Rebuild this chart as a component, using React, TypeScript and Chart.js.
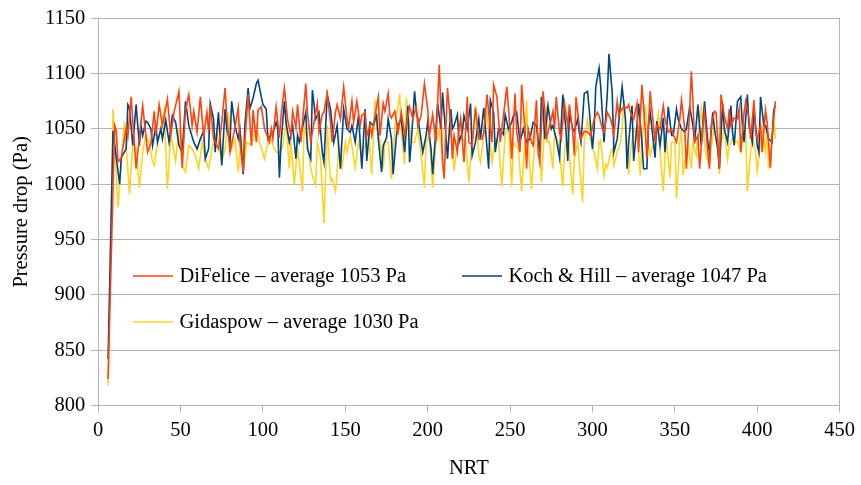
import { useEffect, useRef } from "react";
import { Chart, registerables } from "chart.js";

Chart.register(...registerables);

// Pressure drop over the number of residence times (NRT) for three drag models.
// Each entry is [NRT, pressure drop in Pa].
const difelice: [number, number][] = [
  [6, 824], [10, 1053], [11, 1048], [12, 1020], [14, 1024], [17, 1051], [18, 1043], [20, 1079], [23, 1014], [27, 1071],
  [30, 1029], [32, 1037], [34, 1066], [35, 1044], [37, 1072], [39, 1053], [42, 1077], [44, 1044], [46, 1065], [49, 1084],
  [51, 1015], [53, 1067], [55, 1081], [57, 1053], [58, 1066], [60, 1047], [62, 1079], [64, 1044], [66, 1065], [67, 1047],
  [68, 1072], [70, 1041], [73, 1032], [75, 1056], [77, 1087], [78, 1062], [80, 1029], [83, 1051], [85, 1069], [86, 1038],
  [88, 1011], [89, 1038], [91, 1081], [93, 1035], [94, 1067], [96, 1038], [97, 1067], [99, 1070], [101, 1050], [104, 1038],
  [105, 1050], [106, 1041], [108, 1070], [110, 1042], [111, 1062], [113, 1087], [115, 1058], [117, 1044], [118, 1066], [120, 1051],
  [121, 1072], [123, 1038], [124, 1056], [126, 1091], [127, 1065], [129, 1038], [131, 1056], [133, 1073], [134, 1047], [136, 1063],
  [137, 1065], [139, 1082], [141, 1056], [142, 1038], [144, 1065], [145, 1072], [147, 1059], [149, 1088], [151, 1059], [152, 1051],
  [154, 1075], [155, 1056], [157, 1075], [159, 1053], [160, 1062], [162, 1065], [163, 1044], [165, 1053], [166, 1044], [168, 1062],
  [170, 1079], [171, 1044], [173, 1073], [174, 1066], [176, 1082], [177, 1063], [178, 1060], [180, 1066], [182, 1047], [184, 1065],
  [186, 1044], [188, 1062], [189, 1070], [191, 1059], [193, 1070], [194, 1053], [196, 1062], [198, 1091], [200, 1068], [201, 1044],
  [203, 1063], [205, 1038], [207, 1108], [208, 1068], [209, 1020], [210, 1005], [211, 1050], [212, 1087], [214, 1053], [215, 1023],
  [216, 1044], [218, 1029], [219, 1050], [220, 1059], [222, 1020], [224, 1079], [225, 1038], [227, 1035], [229, 1069], [231, 1041],
  [233, 1041], [234, 1047], [236, 1081], [238, 1050], [239, 1038], [240, 1090], [242, 1079], [244, 1038], [246, 1063], [248, 1088],
  [250, 1050], [251, 1023], [253, 1082], [254, 1047], [256, 1029], [257, 1090], [259, 1050], [260, 1014], [261, 1050], [263, 1038],
  [264, 1035], [266, 1076], [267, 1029], [268, 1020], [270, 1084], [271, 1067], [272, 1042], [274, 1053], [276, 1066], [277, 1050],
  [278, 1079], [280, 1047], [281, 1041], [283, 1073], [285, 1053], [286, 1072], [288, 1047], [289, 1026], [290, 1079], [292, 1053],
  [293, 1041], [295, 1048], [297, 1047], [299, 1044], [301, 1059], [303, 1065], [304, 1062], [306, 1050], [307, 1047], [309, 1065],
  [311, 1059], [312, 1053], [313, 1044], [315, 1075], [316, 1062], [317, 1066], [319, 1070], [321, 1069], [322, 1072], [323, 1065],
  [325, 1059], [327, 1073], [328, 1029], [330, 1090], [332, 1050], [333, 1023], [335, 1084], [336, 1068], [338, 1038], [339, 1053],
  [341, 1050], [343, 1071], [344, 1059], [346, 1047], [348, 1050], [349, 1045], [351, 1038], [353, 1059], [354, 1076], [356, 1050],
  [357, 1014], [359, 1068], [360, 1102], [361, 1073], [362, 1038], [364, 1044], [365, 1014], [367, 1053], [368, 1065], [370, 1029],
  [371, 1014], [372, 1053], [374, 1066], [375, 1065], [377, 1014], [378, 1081], [380, 1062], [382, 1050], [383, 1068], [384, 1053],
  [386, 1060], [388, 1059], [389, 1068], [390, 1029], [392, 1065], [393, 1075], [395, 1059], [396, 1041], [398, 1076], [399, 1047],
  [400, 1041], [402, 1053], [403, 1029], [405, 1067], [406, 1056], [408, 1015], [409, 1044], [411, 1075],
];

const kochHill: [number, number][] = [
  [6, 842], [9, 1048], [13, 1000], [14, 1024], [17, 1032], [18, 1072], [19, 1069], [21, 1035], [23, 1072], [25, 1035],
  [26, 1053], [27, 1044], [29, 1057], [30, 1056], [32, 1050], [33, 1035], [35, 1053], [36, 1038], [38, 1050], [39, 1041],
  [41, 1058], [43, 1038], [45, 1062], [47, 1056], [49, 1035], [51, 1029], [53, 1075], [55, 1053], [56, 1048], [58, 1038],
  [60, 1032], [62, 1041], [64, 1048], [65, 1023], [67, 1032], [68, 1073], [70, 1059], [71, 1029], [73, 1065], [75, 1017],
  [77, 1068], [78, 1050], [80, 1038], [81, 1075], [83, 1053], [85, 1041], [86, 1050], [88, 1009], [89, 1053], [91, 1087],
  [92, 1068], [94, 1078], [96, 1091], [97, 1094], [99, 1079], [100, 1072], [102, 1068], [103, 1041], [106, 1047], [107, 1051],
  [108, 1056], [109, 1050], [110, 1006], [111, 1038], [113, 1075], [114, 1056], [116, 1038], [118, 1053], [120, 1023], [121, 1044],
  [122, 1038], [126, 1065], [127, 1032], [129, 1023], [130, 1085], [132, 1059], [134, 1065], [136, 1029], [137, 1020], [139, 1081],
  [141, 1068], [143, 1038], [145, 1053], [147, 1014], [149, 1068], [151, 1050], [153, 1047], [154, 1053], [156, 1038], [158, 1062],
  [160, 1014], [162, 1068], [163, 1021], [165, 1056], [167, 1053], [168, 1058], [169, 1062], [170, 1041], [172, 1011], [173, 1035],
  [175, 1042], [176, 1059], [178, 1041], [179, 1009], [181, 1044], [182, 1054], [184, 1059], [186, 1029], [188, 1071], [189, 1020],
  [190, 1038], [192, 1084], [193, 1068], [195, 1050], [197, 1029], [199, 1044], [200, 1056], [202, 1032], [203, 1009], [205, 1050],
  [206, 1073], [208, 1050], [209, 1083], [211, 1044], [212, 1023], [214, 1068], [215, 1050], [216, 1053], [218, 1063], [219, 1038],
  [221, 1047], [222, 1062], [224, 1050], [226, 1073], [227, 1026], [229, 1038], [231, 1059], [232, 1041], [234, 1069], [237, 1014],
  [238, 1076], [240, 1065], [241, 1029], [243, 1050], [244, 1050], [246, 1045], [247, 1063], [249, 1050], [251, 1056], [252, 1062],
  [254, 1065], [256, 1038], [258, 1050], [260, 1038], [262, 1041], [264, 1056], [266, 1053], [268, 1029], [269, 1079], [270, 1070],
  [271, 1041], [272, 1056], [273, 1071], [275, 1050], [276, 1053], [278, 1041], [280, 1024], [281, 1053], [282, 1081], [284, 1047],
  [285, 1021], [286, 1065], [288, 1050], [289, 1048], [291, 1059], [292, 1047], [293, 1038], [295, 1082], [297, 1084], [298, 1068],
  [300, 1032], [301, 1050], [302, 1088], [304, 1105], [305, 1088], [307, 1038], [309, 1082], [310, 1118], [312, 1082], [313, 1029],
  [315, 1041], [317, 1073], [318, 1088], [320, 1059], [321, 1014], [322, 1038], [324, 1071], [325, 1021], [327, 1053], [328, 1073],
  [330, 1038], [331, 1014], [333, 1014], [334, 1053], [335, 1065], [337, 1038], [338, 1024], [339, 1057], [341, 1035], [343, 1060],
  [344, 1029], [346, 1070], [348, 1044], [349, 1044], [351, 1068], [352, 1059], [354, 1050], [356, 1047], [357, 1050], [359, 1070],
  [361, 1053], [362, 1038], [364, 1072], [365, 1053], [366, 1035], [368, 1075], [370, 1038], [371, 1029], [373, 1065], [374, 1050],
  [376, 1032], [377, 1014], [379, 1073], [380, 1050], [382, 1038], [384, 1071], [385, 1047], [386, 1035], [388, 1075], [389, 1077],
  [390, 1079], [391, 1053], [392, 1038], [394, 1081], [395, 1053], [397, 1038], [398, 1071], [400, 1035], [401, 1029], [402, 1079],
  [404, 1053], [405, 1053], [407, 1041], [409, 1038], [410, 1067], [411, 1071],
];

const gidaspow: [number, number][] = [
  [6, 818], [9, 1068], [12, 979], [16, 1057], [19, 991], [21, 1037], [23, 1032], [25, 997], [27, 1030], [29, 1044],
  [31, 1037], [33, 1020], [34, 1017], [36, 1037], [38, 1050], [40, 1067], [42, 996], [44, 1044], [47, 1021], [49, 1050],
  [51, 1017], [53, 1011], [55, 1035], [57, 1032], [59, 1026], [61, 1014], [63, 1038], [65, 1023], [67, 1014], [69, 1032],
  [72, 1047], [75, 1020], [77, 1032], [79, 1065], [81, 1032], [83, 1041], [85, 1011], [87, 1044], [88, 1009], [90, 1038],
  [93, 1035], [96, 1053], [98, 1038], [101, 1023], [104, 1044], [106, 1035], [108, 1029], [110, 1029], [112, 1035], [114, 1056],
  [116, 1014], [117, 1038], [119, 1000], [121, 1032], [124, 994], [125, 1053], [127, 1038], [129, 1014], [130, 1008], [132, 999],
  [133, 1038], [135, 1023], [137, 965], [138, 1008], [139, 1053], [141, 1003], [142, 1005], [144, 994], [145, 1011], [146, 1038],
  [148, 1015], [150, 1038], [151, 1029], [153, 1044], [156, 1015], [158, 1038], [160, 1026], [162, 1035], [164, 1050], [166, 1009],
  [167, 1041], [168, 1076], [169, 1050], [171, 1041], [173, 1014], [174, 1038], [176, 1038], [178, 1005], [180, 1050], [183, 1082],
  [184, 1047], [186, 1018], [187, 1078], [189, 1050], [190, 1038], [192, 1038], [194, 1050], [196, 1026], [198, 997], [199, 1038],
  [201, 1044], [203, 997], [205, 1038], [207, 1050], [209, 1023], [210, 1021], [212, 1026], [213, 1050], [215, 1038], [216, 1012],
  [218, 1038], [220, 1060], [221, 1041], [223, 1038], [225, 1002], [227, 1044], [229, 1071], [231, 1026], [232, 1020], [234, 1044],
  [236, 1065], [239, 1020], [241, 1041], [243, 1038], [245, 998], [247, 1044], [249, 1053], [251, 998], [252, 1038], [255, 1032],
  [257, 994], [259, 1038], [260, 1076], [261, 1035], [263, 996], [265, 1038], [266, 1053], [268, 1029], [269, 1002], [271, 1053],
  [272, 1071], [273, 1038], [274, 1038], [276, 1014], [277, 1047], [279, 1038], [280, 1029], [282, 998], [283, 1029], [285, 1050],
  [286, 1026], [288, 991], [289, 1023], [291, 1038], [292, 1020], [294, 984], [295, 1038], [297, 1059], [299, 1038], [301, 1029],
  [303, 1014], [304, 1038], [305, 1040], [307, 1008], [308, 1018], [309, 1015], [311, 1029], [312, 1032], [313, 1017], [315, 1029],
  [317, 1038], [318, 1050], [319, 1076], [321, 1038], [322, 1009], [323, 1029], [325, 1050], [327, 1044], [329, 1008], [330, 1038],
  [332, 1072], [334, 1038], [335, 1026], [337, 1038], [340, 1063], [341, 1029], [343, 994], [344, 1026], [345, 1038], [347, 1006],
  [348, 1038], [350, 1038], [351, 987], [353, 1038], [354, 1050], [355, 1008], [357, 1029], [358, 1038], [360, 1014], [361, 1038],
  [363, 1026], [364, 1044], [366, 1069], [368, 1038], [369, 1026], [371, 1017], [372, 1032], [374, 1053], [376, 1047], [377, 1009],
  [378, 1038], [380, 1050], [382, 1023], [383, 1035], [385, 1041], [387, 1038], [388, 1039], [390, 1029], [392, 1053], [393, 1044],
  [394, 994], [396, 1029], [397, 1044], [399, 1029], [400, 1012], [402, 1038], [403, 1050], [405, 1029], [406, 1050], [407, 1014],
  [409, 1038], [410, 1063], [411, 1041],
];

const seriesLabels = [
  "DiFelice – average 1053 Pa",
  "Koch & Hill – average 1047 Pa",
  "Gidaspow – average 1030 Pa",
];
const seriesColors = ["#ff420e", "#004586", "#ffd320"];

const xTitle = "NRT";
const yTitle = "Pressure drop (Pa)";
const xRange = { min: 0, max: 450, step: 50 };
const yRange = { min: 800, max: 1150, step: 50 };

const FONT_FAMILY = '"Liberation Serif", "Times New Roman", serif';
const FONT_SIZE = 20.5;
const GRID = "#b3b3b3";

const toPoints = (rows: [number, number][]) => rows.map(([x, y]) => ({ x, y }));
const plainNumber = (v: number | string) => String(v);

// Legend drawn inside the plot area: two entries on the first row, one below.
const innerLegend = {
  id: "innerLegend",
  afterDraw(chart: Chart) {
    const { ctx } = chart;
    const slots = [
      { x: 133, y: 276 },
      { x: 462, y: 276 },
      { x: 133, y: 322 },
    ];
    ctx.save();
    ctx.font = `${FONT_SIZE}px ${FONT_FAMILY}`;
    ctx.textBaseline = "middle";
    ctx.textAlign = "left";
    chart.data.datasets.forEach((ds, i) => {
      const s = slots[i];
      ctx.strokeStyle = ds.borderColor as string;
      ctx.lineWidth = 1.6;
      ctx.beginPath();
      ctx.moveTo(s.x, s.y);
      ctx.lineTo(s.x + 40, s.y);
      ctx.stroke();
      ctx.fillStyle = "#000";
      ctx.fillText(ds.label as string, s.x + 46.5, s.y + 1);
    });
    ctx.restore();
  },
};

export default function App() {
  const canvasRef = useRef<HTMLCanvasElement | null>(null);

  useEffect(() => {
    document.body.style.margin = "0";
    const canvas = canvasRef.current;
    if (!canvas) return;

    const sets = [difelice, kochHill, gidaspow];
    const chart = new Chart(canvas, {
      type: "line",
      data: {
        datasets: sets.map((rows, i) => ({
          label: seriesLabels[i],
          data: toPoints(rows),
          borderColor: seriesColors[i],
          backgroundColor: seriesColors[i],
          borderWidth: 1.6,
          pointRadius: 0,
          tension: 0,
          fill: false,
        })),
      },
      options: {
        animation: false,
        responsive: false,
        devicePixelRatio: 1,
        layout: { padding: { top: 14.5, right: 18.7, left: 0, bottom: 0 } },
        plugins: {
          legend: { display: false },
          tooltip: { enabled: false },
        },
        scales: {
          x: {
            type: "linear",
            min: xRange.min,
            max: xRange.max,
            afterFit: (scale) => {
              scale.height = 79.5;
            },
            ticks: {
              stepSize: xRange.step,
              color: "#000",
              padding: 6,
              callback: plainNumber,
              font: { family: FONT_FAMILY, size: FONT_SIZE },
            },
            grid: {
              color: (c) => (c.tick && c.tick.value === xRange.max ? GRID : "rgba(0,0,0,0)"),
              tickColor: GRID,
              tickLength: 7,
              lineWidth: 1,
            },
            border: { color: GRID, width: 1 },
            title: {
              display: true,
              text: xTitle,
              color: "#000",
              padding: { top: 0, bottom: 4 },
              font: { family: FONT_FAMILY, size: FONT_SIZE },
            },
          },
          y: {
            min: yRange.min,
            max: yRange.max,
            afterFit: (scale) => {
              scale.width = 98.2;
            },
            ticks: {
              stepSize: yRange.step,
              color: "#000",
              padding: 6,
              callback: plainNumber,
              font: { family: FONT_FAMILY, size: FONT_SIZE },
            },
            grid: {
              color: GRID,
              tickColor: GRID,
              tickLength: 7,
              lineWidth: 1,
            },
            border: { color: GRID, width: 1 },
            title: {
              display: true,
              text: yTitle,
              color: "#000",
              padding: { top: 9, bottom: 0 },
              font: { family: FONT_FAMILY, size: FONT_SIZE },
            },
          },
        },
      },
      plugins: [innerLegend],
    });

    return () => chart.destroy();
  }, []);

  return (
    <div style={{ width: 861, height: 485, background: "#fff" }}>
      <canvas ref={canvasRef} width={861} height={485} style={{ display: "block" }} />
    </div>
  );
}
